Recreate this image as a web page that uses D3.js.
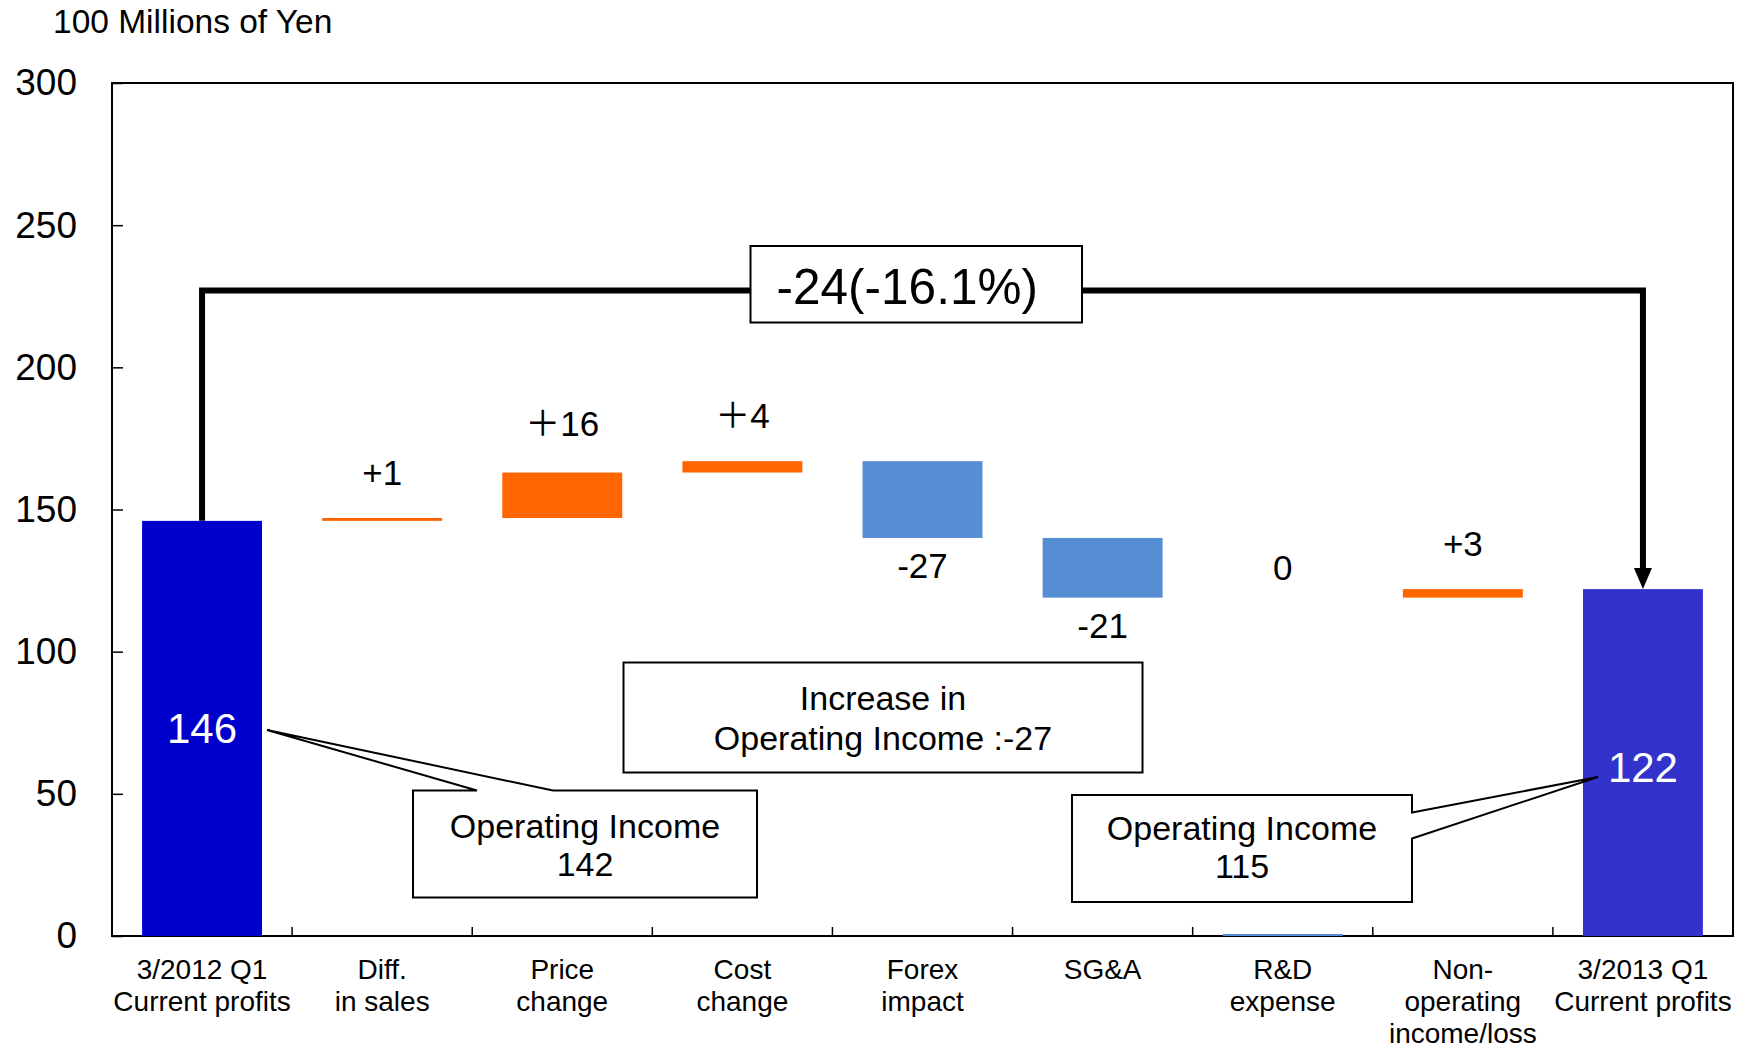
<!DOCTYPE html>
<html>
<head>
<meta charset="utf-8">
<script src="https://cdn.jsdelivr.net/npm/d3@7"></script>
<style>
  html, body { margin: 0; padding: 0; background: #ffffff; }
  svg { display: block; }
  text { font-family: "Liberation Sans", Arial, "Noto Sans CJK JP", sans-serif; fill: #000; }
</style>
</head>
<body>
<svg id="chart" width="1746" height="1049"></svg>
<script>
// Bridge of current profits, 3/2012 Q1 -> 3/2013 Q1 (unit: 100 million yen)
const categories = [
  ["3/2012 Q1", "Current profits"],
  ["Diff.", "in sales"],
  ["Price", "change"],
  ["Cost", "change"],
  ["Forex", "impact"],
  ["SG&A"],
  ["R&D", "expense"],
  ["Non-", "operating", "income/loss"],
  ["3/2013 Q1", "Current profits"]
];
const values = [146, 1, 16, 4, -27, -21, 0, 3, 122];
const kinds = ["total", "delta", "delta", "delta", "delta", "delta", "delta", "delta", "total"];
const valueLabels = ["146", "+1", "＋16", "＋4", "-27", "-21", "0", "+3", "122"];
const yTicks = [0, 50, 100, 150, 200, 250, 300];
const unitLabel = "100 Millions of Yen";
const changeLabel = "-24(-16.1%)";
const changeLevel = 227;
const increaseNote = ["Increase in", "Operating Income :-27"];
const startNote = ["Operating Income", "142"];
const endNote = ["Operating Income", "115"];

const colors = {
  startTotal: "#0000CC",
  endTotal: "#3333CC",
  up: "#FF6600",
  down: "#558ED5"
};

const svg = d3.select("#chart");
const plot = { left: 112, right: 1733, top: 83, bottom: 936 };

const x = d3.scaleBand()
  .domain(d3.range(categories.length))
  .range([plot.left, plot.right])
  .paddingInner(0.334)
  .paddingOuter(0.167);
const band = (plot.right - plot.left) / categories.length;
const y = d3.scaleLinear().domain([0, 300]).range([plot.bottom, plot.top]);

// running totals for the floating segments
let level = 0;
const segments = values.map((v, i) => {
  let lo, hi, start;
  if (kinds[i] === "total") {
    lo = 0; hi = v; start = 0; level = v;
  } else {
    start = level;
    lo = Math.min(level, level + v);
    hi = Math.max(level, level + v);
    level += v;
  }
  return { i, v, lo, hi, start, kind: kinds[i] };
});

// plot frame
svg.append("rect")
  .attr("x", plot.left).attr("y", plot.top)
  .attr("width", plot.right - plot.left).attr("height", plot.bottom - plot.top)
  .attr("fill", "none").attr("stroke", "#000").attr("stroke-width", 2);

// y axis
const yAxis = d3.axisLeft(y).tickValues(yTicks).tickSizeInner(-11).tickSizeOuter(0).tickPadding(35);
const gy = svg.append("g").attr("transform", `translate(${plot.left},0)`).call(yAxis);
gy.select(".domain").remove();
gy.selectAll(".tick line").attr("stroke", "#000").attr("stroke-width", 1.5);
gy.selectAll(".tick text").attr("font-size", 37).attr("font-family", null).attr("fill", "#000");

// category separators on the x axis
svg.append("g").selectAll("line")
  .data(d3.range(1, categories.length))
  .join("line")
  .attr("x1", d => plot.left + d * band).attr("x2", d => plot.left + d * band)
  .attr("y1", plot.bottom).attr("y2", plot.bottom - 9)
  .attr("stroke", "#000").attr("stroke-width", 1.5);

// category labels
const cat = svg.append("g").selectAll("text")
  .data(categories)
  .join("text")
  .attr("text-anchor", "middle")
  .attr("font-size", 28)
  .attr("x", (d, i) => x(i) + x.bandwidth() / 2);
cat.selectAll("tspan")
  .data(d => d)
  .join("tspan")
  .attr("x", function () { return d3.select(this.parentNode).attr("x"); })
  .attr("y", (d, j) => 979 + j * 32)
  .text(d => d);

// unit label
svg.append("text").attr("x", 53).attr("y", 33).attr("font-size", 33.5).text(unitLabel);

// bars (a zero change is drawn as a hairline on the baseline)
function barColor(s) {
  if (s.kind === "total") return s.i === 0 ? colors.startTotal : colors.endTotal;
  return s.v > 0 ? colors.up : colors.down;
}
svg.append("g").selectAll("rect")
  .data(segments)
  .join("rect")
  .attr("x", s => x(s.i))
  .attr("width", x.bandwidth())
  .attr("y", s => s.v === 0 ? y(0) - 2 : y(s.hi))
  .attr("height", s => s.v === 0 ? 2 : y(s.lo) - y(s.hi))
  .attr("fill", barColor);

// value labels
svg.append("g").selectAll("text")
  .data(segments)
  .join("text")
  .attr("text-anchor", "middle")
  .attr("x", s => x(s.i) + x.bandwidth() / 2)
  .attr("y", s => {
    if (s.kind === "total") return y(s.hi / 2) + (s.i === 0 ? 0 : 5);
    if (s.v > 0) return y(s.hi) - (s.v >= 10 ? 37 : 33);
    if (s.v < 0) return y(s.lo) + 40;
    return y(s.start) - 18;
  })
  .attr("dominant-baseline", s => s.kind === "total" ? "central" : "auto")
  .attr("font-size", s => s.kind === "total" ? 42 : 35)
  .style("fill", s => s.kind === "total" ? "#ffffff" : "#000")
  .text((s, i) => valueLabels[i]);

// overall change bracket with arrow
const first = segments[0], last = segments[segments.length - 1];
const xs = x(first.i) + x.bandwidth() / 2;
const xe = x(last.i) + x.bandwidth() / 2;
const yb = y(changeLevel);
const headH = 21, headW = 18;
svg.append("path")
  .attr("d", `M${xs},${y(first.hi)} L${xs},${yb} L${xe},${yb} L${xe},${y(last.hi) - headH + 2}`)
  .attr("fill", "none").attr("stroke", "#000").attr("stroke-width", 6)
  .attr("stroke-linejoin", "miter");
svg.append("path")
  .attr("d", `M${xe - headW / 2},${y(last.hi) - headH} L${xe + headW / 2},${y(last.hi) - headH} L${xe},${y(last.hi)} Z`)
  .attr("fill", "#000");

// boxed change label on the bracket
const cbx = 750.5, cbw = 331.5, cby = 246, cbh = 76.5;
svg.append("rect").attr("x", cbx).attr("y", cby).attr("width", cbw).attr("height", cbh)
  .attr("fill", "#fff").attr("stroke", "#000").attr("stroke-width", 2);
svg.append("text").attr("x", cbx + cbw / 2 - 9).attr("y", cby + cbh / 2 + 2)
  .attr("text-anchor", "middle").attr("dominant-baseline", "central")
  .attr("font-size", 49.5).text(changeLabel);

// plain note box
function noteLines(lines, cx, cy, gap, size) {
  const t = svg.append("text").attr("text-anchor", "middle").attr("font-size", size);
  lines.forEach((ln, j) => {
    t.append("tspan").attr("x", cx)
      .attr("y", cy + (j - (lines.length - 1) / 2) * gap)
      .attr("dominant-baseline", "central").text(ln);
  });
}
svg.append("rect").attr("x", 623.5).attr("y", 662.5).attr("width", 519).attr("height", 110)
  .attr("fill", "#fff").attr("stroke", "#000").attr("stroke-width", 2);
noteLines(increaseNote, 883, 718, 40, 34);

// callout pointing at the starting bar (tail on the top edge)
{
  const bx0 = 413, bx1 = 757, by0 = 790.5, by1 = 897.5;
  const tip = [267, 730];
  svg.append("path")
    .attr("d", `M${bx0},${by0} L477,${by0} L${tip[0]},${tip[1]} L553,${by0} L${bx1},${by0} L${bx1},${by1} L${bx0},${by1} Z`)
    .attr("fill", "#fff").attr("stroke", "#000").attr("stroke-width", 2).attr("stroke-linejoin", "miter");
  noteLines(startNote, (bx0 + bx1) / 2, 845, 38, 34);
}

// callout pointing at the ending bar (tail on the right edge)
{
  const bx0 = 1072, bx1 = 1412, by0 = 795, by1 = 902;
  const tip = [1598, 777];
  svg.append("path")
    .attr("d", `M${bx0},${by0} L${bx1},${by0} L${bx1},812.5 L${tip[0]},${tip[1]} L${bx1},838.5 L${bx1},${by1} L${bx0},${by1} Z`)
    .attr("fill", "#fff").attr("stroke", "#000").attr("stroke-width", 2).attr("stroke-linejoin", "miter");
  noteLines(endNote, (bx0 + bx1) / 2, 847, 38, 34);
}
</script>
</body>
</html>
